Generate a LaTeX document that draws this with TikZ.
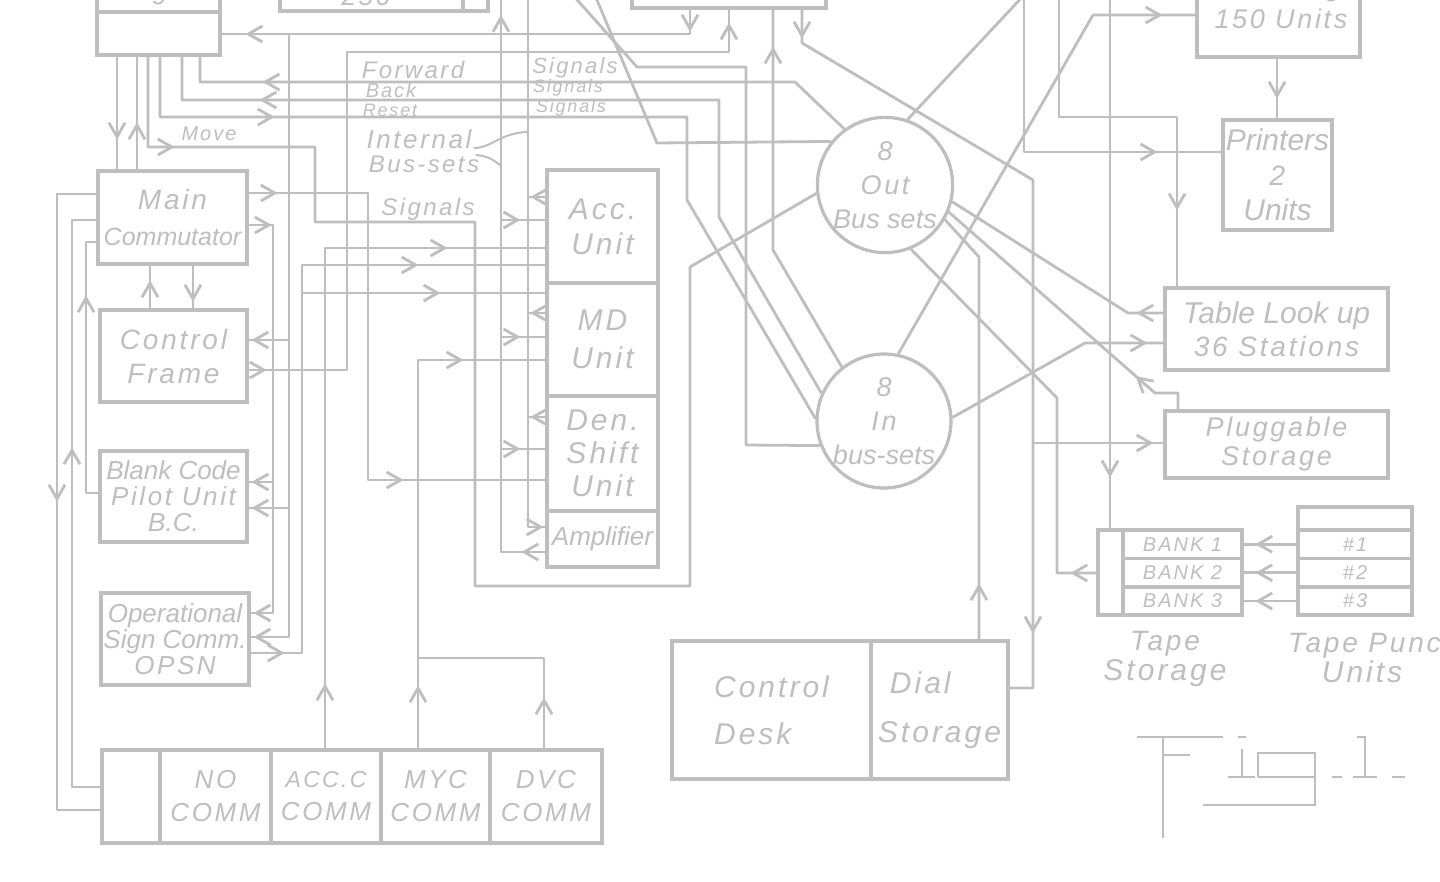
\documentclass[tikz,border=0pt]{standalone}
\usepackage{fontspec}
\setmainfont{Liberation Sans}
\newfontfamily\handfam[LetterSpace=10]{Liberation Sans}
\newfontfamily\handcfam{Liberation Sans}
\newcommand\hf[2]{\handfam\itshape\fontsize{#1}{#2}\selectfont}
\newcommand\hcf[2]{\handcfam\itshape\fontsize{#1}{#2}\selectfont}
\usetikzlibrary{arrows.meta,decorations.markings}
\definecolor{ink}{RGB}{190,190,190}
\tikzset{
 wire/.style={draw=ink,line width=2.8pt,line join=round},
 af/.style={postaction={decorate,decoration={markings,mark=at position #1 with {\arrow{Straight Barb[length=14pt,width=16pt]}}}}},
 bx/.style={draw=ink,line width=3.2pt,rectangle,inner sep=0pt,align=center,text=ink},
 bus/.style={draw=ink,line width=3.2pt,circle,minimum size=134pt,inner sep=0pt,align=center,text=ink},
 lab/.style={inner sep=0pt,text=ink,align=center},
}
\begin{document}
\begin{tikzpicture}[x=1pt,y=-1pt,color=ink]
\useasboundingbox (0,0) rectangle (1440,882);
\fill[white] (0,0) rectangle (1440,882);
\clip (0,0) rectangle (1440,882);

% ---------- boxes ----------
\node[bx,minimum width=123pt,minimum height=42pt] (b1a) at (158.5,-9) {};
\node[bx,minimum width=123pt,minimum height=43pt] (b1b) at (158.5,33.5) {};
\node[lab,anchor=base,font={\hf{26}{30}}] (g1) at (160,0) {g};
\node[bx,minimum width=183pt,minimum height=41pt] (b2a) at (371.5,-9.5) {};
\node[bx,minimum width=25pt,minimum height=41pt] (b2b) at (475.5,-9.5) {};
\node[lab,anchor=base,font={\hf{26}{30}}] (t250) at (366,6) {250};
\node[bx,minimum width=194pt,minimum height=38pt] (b3) at (729,-11) {};
\node[bx,minimum width=163pt,minimum height=97pt] (b4) at (1278.5,8.5) {};
\node[lab,font={\hf{27}{30}}] (t150) at (1281,19) {150 Units};
\node[lab,anchor=base,font={\hf{26}{30}}] (g4) at (1333,-3) {g};

\node[bx,minimum width=109pt,minimum height=110pt,font={\hcf{30}{35}}] (pr) at (1277.5,175) {Printers\\\hf{28}{35}2\\Units};
\node[bx,minimum width=223pt,minimum height=82pt,font={\hcf{30}{33}}] (tab) at (1276.5,329) {Table Look up\\\hf{28}{33}36 Stations};
\node[bx,minimum width=223pt,minimum height=67pt,font={\hf{27}{29}}] (plug) at (1276.5,444.5) {Pluggable\\Storage};

\node[bx,minimum width=25pt,minimum height=85pt] (tsa) at (1110.5,572.5) {};
\node[bx,minimum width=119pt,minimum height=28.5pt,font={\hf{20}{22}}] (bk1) at (1182.5,544.25) {BANK 1};
\node[bx,minimum width=119pt,minimum height=28.5pt,font={\hf{20}{22}}] (bk2) at (1182.5,572.75) {BANK 2};
\node[bx,minimum width=119pt,minimum height=28pt,font={\hf{20}{22}}] (bk3) at (1182.5,601) {BANK 3};
\node[bx,minimum width=114pt,minimum height=23pt] (p0) at (1355,518.5) {};
\node[bx,minimum width=114pt,minimum height=28.5pt,font={\hf{20}{22}}] (p1) at (1355,544.25) {\#1};
\node[bx,minimum width=114pt,minimum height=28.5pt,font={\hf{20}{22}}] (p2) at (1355,572.75) {\#2};
\node[bx,minimum width=114pt,minimum height=28pt,font={\hf{20}{22}}] (p3) at (1355,601) {\#3};
\node[lab,font={\hf{28}{30}}] (tslab) at (1165,659) {Tape\\\hf{30}{30}Storage};
\node[lab,anchor=base west,font={\hf{28}{30}}] (tplab) at (1288,652) {Tape Punch};
\node[lab,anchor=base,font={\hf{30}{30}}] (tplab2) at (1362,682) {Units};

\node[bx,minimum width=199pt,minimum height=138pt,align=left,font={\hf{30}{47}}] (desk) at (771.5,710) {Control\\Desk};
\node[bx,minimum width=137pt,minimum height=138pt,align=left,font={\hf{30}{49}}] (dial) at (939.5,710) {\hspace*{12pt}Dial\\Storage};

\node[bx,minimum width=58pt,minimum height=93pt] (c0) at (131,796.5) {};
\node[bx,minimum width=111pt,minimum height=93pt,font={\hf{26}{33}}] (c1) at (215.5,796.5) {NO\\COMM};
\node[bx,minimum width=110pt,minimum height=93pt,font={\hf{23}{33}}] (c2) at (326,796.5) {ACC.C\\\hf{26}{33}COMM};
\node[bx,minimum width=109pt,minimum height=93pt,font={\hf{26}{33}}] (c3) at (435.5,796.5) {MYC\\COMM};
\node[bx,minimum width=112pt,minimum height=93pt,font={\hf{26}{33}}] (c4) at (546,796.5) {DVC\\COMM};

\node[bx,minimum width=149pt,minimum height=93pt,font={\hf{28}{36}}] (mc) at (172.5,217.5) {Main\\\hcf{25}{36}Commutator};
\node[bx,minimum width=147pt,minimum height=92pt,font={\hf{28}{34}}] (cf) at (173.5,356) {Control\\Frame};
\node[bx,minimum width=147pt,minimum height=91pt,font={\hcf{26}{26}}] (bc) at (173.5,496.5) {Blank Code\\\hf{26}{26}Pilot Unit\\B.C.};
\node[bx,minimum width=148pt,minimum height=92pt,font={\hcf{26}{26}}] (op) at (175,639) {Operational\\Sign Comm.\\\hf{26}{26}OPSN};

\node[bx,minimum width=111pt,minimum height=113pt,font={\hf{30}{35}}] (acc) at (602.5,226.5) {Acc.\\Unit};
\node[bx,minimum width=111pt,minimum height=113pt,font={\hf{30}{38}}] (md) at (602.5,339.5) {MD\\Unit};
\node[bx,minimum width=111pt,minimum height=115pt,font={\hf{30}{33}}] (den) at (602.5,453.5) {Den.\\Shift\\Unit};
\node[bx,minimum width=111pt,minimum height=56pt,font={\hcf{26}{30}}] (amp) at (602.5,539) {Amplifier};

\node[bus,font={\hf{27}{34}}] (out) at (885,185) {8\\Out\\\hcf{27}{34}Bus sets};
\node[bus,font={\hf{27}{34}}] (in) at (884,421) {8\\In\\\hcf{27}{34}bus-sets};

% ---------- wire labels ----------
\node[lab,font={\hf{24}{26}}] (lfwd) at (413,70) {Forward};
\node[lab,font={\hf{20}{22}}] (lback) at (391,90) {Back};
\node[lab,font={\hf{18}{20}}] (lreset) at (390,110) {Reset};
\node[lab,font={\hf{26}{28}}] (lint) at (419,139) {Internal};
\node[lab,font={\hf{24}{26}}] (lbus) at (424,164) {Bus-sets};
\node[lab,font={\hf{24}{26}}] (lsig) at (428,209) {Signals};
\node[lab,font={\hf{20}{22}}] (lmove) at (209,134) {Move};
\node[lab,font={\hf{22}{24}}] (ls1) at (575,68) {Signals};
\node[lab,font={\hf{18}{20}}] (ls2) at (568,88) {Signals};
\node[lab,font={\hf{18}{20}}] (ls3) at (571,108) {Signals};

% ---------- junctions and free ends ----------
\coordinate (j1) at (289,34);
\coordinate (j2) at (289,340);
\coordinate (j3) at (289,508);
\coordinate (j4) at (273,482);
\coordinate (j5) at (302,293);
\coordinate (j8) at (418,658);
\coordinate (j18) at (1033,443);
\coordinate (ja1) at (501,220);
\coordinate (ja2) at (501,337);
\coordinate (ja3) at (501,449);
\coordinate (jb1) at (528,197);
\coordinate (jb2) at (528,313);
\coordinate (jb3) at (528,417);
\coordinate (d1) at (571,-7);
\coordinate (d2) at (594,-7);
\coordinate (d25) at (1026,-7);
\coordinate (t26) at (1024,-7);
\coordinate (t27) at (1059,-7);
\coordinate (t28) at (1110,-7);
\coordinate (t501) at (501,-7);
\coordinate (t528) at (528,-7);
\coordinate (ib1) at (527,132);
\coordinate (ib2) at (501,166);

% ---------- connectors ----------
\draw[wire,af=22pt,af=-24pt] (b3.south -| 690,0) -- (690,34) -- (b1b.east |- 0,34);
\draw[wire,af=-3pt] (j1) -- (289,637) -- (op.east |- 0,637);
\draw[wire,af=-3pt] (j2) -- (cf.east |- 0,340);
\draw[wire,af=-3pt] (j3) -- (bc.east |- 0,508);
\draw[wire,af=18pt,af=-13pt] (cf.east |- 0,370) -- (347,370) -- (347,52) -- (729,52) -- (b3.south -| 729,0);
\draw[wire,af=29pt,af=-142pt] (mc.east |- 0,193) -- (368,193) -- (368,480) -- (den.west |- 0,480);
\draw[wire,af=23pt,af=-3pt] (mc.east |- 0,225) -- (273,225) -- (273,613) -- (op.east |- 0,613);
\draw[wire,af=-3pt] (j4) -- (bc.east |- 0,482);
\draw[wire,af=34pt,af=-127pt] (op.east |- 0,653) -- (302,653) -- (302,265) -- (acc.west |- 0,265);
\draw[wire,af=-105pt] (j5) -- (md.west |- 0,293);
\draw[wire,af=65pt,af=-98pt] (c2.north -| 325,0) -- (325,248) -- (acc.west |- 0,248);
\draw[wire,af=63pt,af=-82pt] (c3.north -| 418,0) -- (418,360) -- (md.west |- 0,360);
\draw[wire,af=51pt] (c4.north -| 544,0) -- (544,658) -- (j8);
\draw[wire,af=83pt] (b1b.south -| 117,0) -- (mc.north -| 117,0);
\draw[wire,af=47pt] (mc.north -| 137,0) -- (b1b.south -| 137,0);
\draw[wire,af=117pt] (b1b.south -| 148,0) -- (148,147) -- (315,147) -- (315,222) -- (475,222) -- (475,586) -- (690,586) -- (690,267) -- (out.187);
\draw[wire,af=175pt] (b1b.south -| 160,0) -- (160,117) -- (687,117) -- (687,200) -- (in.178);
\draw[wire,af=-121pt] (in.156) -- (719,217) -- (719,100) -- (182,100) -- (b1b.south -| 182,0);
\draw[wire,af=-88pt] (out.126) -- (795,82) -- (200,82) -- (b1b.south -| 200,0);
\draw[wire] (d1) -- (637,67) -- (746,67) -- (746,445) -- (in.201);
\draw[wire] (d2) -- (657,143) -- (out.141);
\draw[wire,af=-37pt] (in.128) -- (773,250) -- (b3.south -| 773,0);
\draw[wire,af=29pt,af=-78pt] (b3.south -| 802,0) -- (802,43) -- (1033,180) -- (1033,688) -- (dial.east |- 0,688);
\draw[wire,af=-10pt] (j18) -- (plug.west |- 0,443);
\draw[wire,af=56pt] (dial.north -| 979,0) -- (979,257) -- (out.-30);
\draw[wire,af=27pt] (tab.west |- 0,313) -- (1128,313) -- (out.-14);
\draw[wire,af=65pt] (plug.north -| 1178,0) -- (1178,393) -- (1155,393) -- (out.-23);
\draw[wire,af=26pt] (tsa.west |- 0,573) -- (1057,573) -- (1057,398) -- (out.-68);
\draw[wire,af=-16pt] (in.3) -- (1085,343) -- (tab.west |- 0,343);
\draw[wire,af=-33pt] (in.78) -- (1093,15) -- (b4.west |- 0,15);
\draw[wire] (out.71) -- (d25);
\draw[wire,af=-64pt] (t26) -- (1024,152) -- (pr.west |- 0,152);
\draw[wire,af=-76pt] (t27) -- (1059,117) -- (1177,117) -- (tab.north -| 1177,0);
\draw[wire,af=-51pt] (t28) -- (tsa.north -| 1110,0);
\draw[wire,af=40pt] (b4.south -| 1277,0) -- (pr.north -| 1277,0);
\draw[wire,af=41pt] (p1.west) -- (bk1.east);
\draw[wire,af=41pt] (p2.west) -- (bk2.east);
\draw[wire,af=41pt] (p3.west) -- (bk3.east);
\draw[wire,af=347pt] (mc.west |- 0,194) -- (57,194) -- (57,810) -- (c0.west |- 0,810);
\draw[wire,af=368pt] (c0.west |- 0,787) -- (72,787) -- (72,220) -- (mc.west |- 0,220);
\draw[wire,af=210pt] (bc.west |- 0,493) -- (86,493) -- (86,242) -- (mc.west |- 0,242);
\draw[wire,af=28pt] (cf.north -| 150,0) -- (mc.south -| 150,0);
\draw[wire,af=36pt] (mc.south -| 193,0) -- (cf.north -| 193,0);
\draw[wire,af=24pt,af=-22pt] (amp.west |- 0,552) -- (501,552) -- (t501);
\draw[wire,af=-25pt] (ja1) -- (acc.west |- 0,220);
\draw[wire,af=-25pt] (ja2) -- (md.west |- 0,337);
\draw[wire,af=-25pt] (ja3) -- (den.west |- 0,449);
\draw[wire,af=-2pt] (t528) -- (528,527) -- (amp.west |- 0,527);
\draw[wire,af=15pt] (acc.west |- 0,197) -- (jb1);
\draw[wire,af=15pt] (md.west |- 0,313) -- (jb2);
\draw[wire,af=15pt] (den.west |- 0,417) -- (jb3);
\draw[wire,line width=2pt] ([shift={(2,9)}]lint.east) .. controls (492,148) and (500,133) .. (ib1);
\draw[wire,line width=2pt] ([shift={(4,16)}]lint.east) .. controls (488,156) and (494,160) .. (ib2);

% ---------- Fig.1 lettering ----------
\begin{scope}[line width=2.8pt]
\draw (1137,737) -- (1223,737);
\draw (1163,737) -- (1163,838);
\draw (1163,755) -- (1190,755);
\draw (1238,737) -- (1246,737);
\draw (1242,749) -- (1242,777);
\draw (1228,777) -- (1255,777);
\draw (1258,777) -- (1258,753) -- (1315,753) -- (1315,805) -- (1203,805);
\draw (1258,777) -- (1315,777);
\draw (1332,777) -- (1342,777);
\draw (1357,737) -- (1365,737) -- (1365,777);
\draw (1353,777) -- (1377,777);
\draw (1392,777) -- (1405,777);
\end{scope}
\end{tikzpicture}
\end{document}
